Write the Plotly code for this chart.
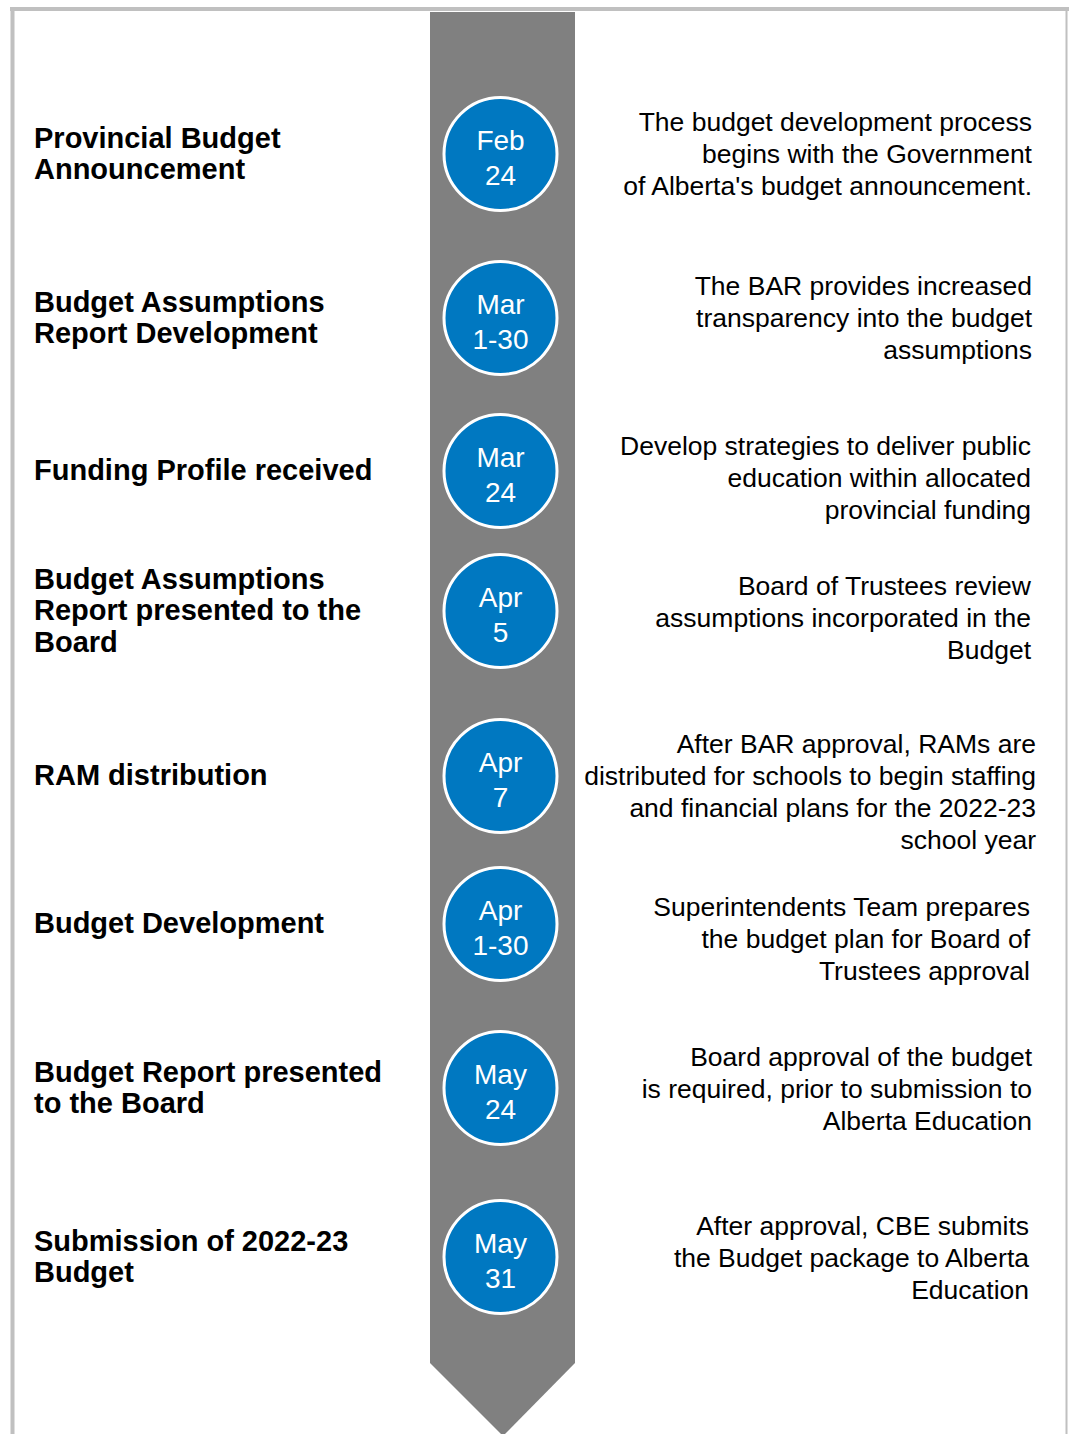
import plotly.graph_objects as go

# ---------------- data ----------------
dates = ["Feb\n24", "Mar\n1-30", "Mar\n24", "Apr\n5", "Apr\n7", "Apr\n1-30", "May\n24", "May\n31"]
milestones = [
    "Provincial Budget\nAnnouncement",
    "Budget Assumptions\nReport Development",
    "Funding Profile received",
    "Budget Assumptions\nReport presented to the\nBoard",
    "RAM distribution",
    "Budget Development",
    "Budget Report presented\nto the Board",
    "Submission of 2022-23\nBudget",
]
descriptions = [
    "The budget development process\nbegins with the Government\nof Alberta's budget announcement.",
    "The BAR provides increased\ntransparency into the budget\nassumptions",
    "Develop strategies to deliver public\neducation within allocated\nprovincial funding",
    "Board of Trustees review\nassumptions incorporated in the\nBudget",
    "After BAR approval, RAMs are\ndistributed for schools to begin staffing\nand financial plans for the 2022-23\nschool year",
    "Superintendents Team prepares\nthe budget plan for Board of\nTrustees approval",
    "Board approval of the budget\nis required, prior to submission to\nAlberta Education",
    "After approval, CBE submits\nthe Budget package to Alberta\nEducation",
]

# ---------------- layout (positions / styles) ----------------
PAGE_W, PAGE_H = 1069, 1434
row_y = [154, 318, 471, 611, 776, 924, 1088, 1257]
desc_y = [154, 318, 478, 618, 792, 939, 1089, 1258]
desc_x = [1032, 1032, 1031, 1031, 1036, 1030, 1032, 1029]
circle_x = 500.5
left_x = 34
FONT = "Liberation Sans, Arial, sans-serif"
BLUE = "#0078C1"
GRAY = "#808080"
BORDER = "#C0C0C0"


def line_points(text, cx, cy, spacing):
    lines = text.split("\n")
    n = len(lines)
    xs, ys = [], []
    for i, _ in enumerate(lines):
        xs.append(cx)
        ys.append(cy + (i - (n - 1) / 2) * spacing)
    return xs, ys, lines


fig = go.Figure()

# circles
fig.add_trace(go.Scatter(
    x=[circle_x] * len(dates), y=row_y, mode="markers",
    marker=dict(size=113, color=BLUE, line=dict(color="white", width=3)),
    hoverinfo="skip", showlegend=False,
))

# date text
dx, dy, dt = [], [], []
for d, y in zip(dates, row_y):
    xs, ys, ls = line_points(d, circle_x, y + 6, 35)
    dx += xs; dy += ys; dt += ls
fig.add_trace(go.Scatter(
    x=dx, y=dy, text=dt, mode="text", textposition="middle center",
    textfont=dict(family=FONT, size=28, color="white"),
    hoverinfo="skip", showlegend=False,
))

# milestones (left)
lx, ly, lt = [], [], []
for m, y in zip(milestones, row_y):
    xs, ys, ls = line_points(m, left_x, y + 2, 31.5)
    lx += xs; ly += ys; lt += ls
fig.add_trace(go.Scatter(
    x=lx, y=ly, text=lt, mode="text", textposition="middle right",
    textfont=dict(family=FONT, size=29, color="black", weight="bold"),
    hoverinfo="skip", showlegend=False,
))

# descriptions (right)
rx, ry, rt = [], [], []
for t, x, y in zip(descriptions, desc_x, desc_y):
    xs, ys, ls = line_points(t, x, y + 2, 32)
    rx += xs; ry += ys; rt += ls
fig.add_trace(go.Scatter(
    x=rx, y=ry, text=rt, mode="text", textposition="middle left",
    textfont=dict(family=FONT, size=26.5, color="black"),
    hoverinfo="skip", showlegend=False,
))

shapes = [
    # timeline band with arrow head
    dict(type="path", path="M 430 12 L 575 12 L 575 1363 L 503 1436 L 430 1363 Z",
         fillcolor=GRAY, line=dict(width=0), layer="below", xref="x", yref="y"),
    # border
    dict(type="line", x0=10, x1=1069, y0=9, y1=9, line=dict(color=BORDER, width=4), xref="x", yref="y"),
    dict(type="line", x0=12.5, x1=12.5, y0=7, y1=1440, line=dict(color=BORDER, width=4), xref="x", yref="y"),
    dict(type="line", x0=1066.5, x1=1066.5, y0=7, y1=1440, line=dict(color=BORDER, width=2), xref="x", yref="y"),
]

fig.update_layout(
    width=PAGE_W, height=PAGE_H,
    margin=dict(l=0, r=0, t=0, b=0),
    paper_bgcolor="white", plot_bgcolor="white",
    xaxis=dict(range=[0, PAGE_W], visible=False, fixedrange=True),
    yaxis=dict(range=[PAGE_H, 0], visible=False, fixedrange=True),
    shapes=shapes,
    showlegend=False,
)

fig.write_html(
    "out.html",
    config={"displayModeBar": False},
    post_script="document.body.style.margin='0';document.body.style.overflow='hidden';",
)
